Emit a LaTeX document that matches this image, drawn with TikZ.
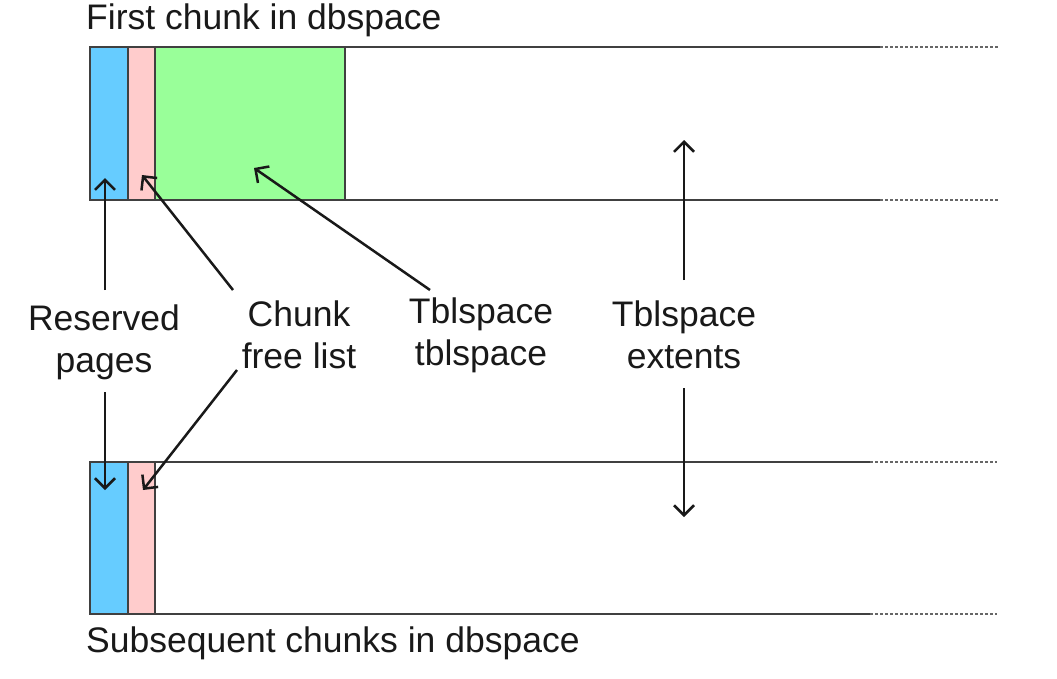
\documentclass[tikz,border=0pt]{standalone}
\usepackage{fontspec}
\setmainfont{Liberation Sans}
\usetikzlibrary{arrows.meta}
\begin{document}
\begin{tikzpicture}[x=1pt,y=-1pt,
  lbl/.style={font=\fontsize{35.5}{42}\selectfont, text=black!90, align=center, inner sep=0pt},
  boxline/.style={draw=black!75, line width=2pt},
  hline/.style={draw=black!75, line width=1.8pt},
  dline/.style={draw=black!60, line width=1.8pt, dash pattern=on 3pt off 2pt},
  arr/.style={draw=black!90, line width=2.5pt, -{Straight Barb[length=10pt,width=20pt,line width=2.5pt]}}
]
\useasboundingbox (0,0) rectangle (1057,678);
% top chunk
\fill[fill={rgb,255:red,102;green,204;blue,255}] (90,47) rectangle (128,200);
\fill[fill={rgb,255:red,255;green,204;blue,204}] (128,47) rectangle (155,200);
\fill[fill={rgb,255:red,153;green,255;blue,153}] (155,47) rectangle (345,200);
\draw[boxline] (90,47) rectangle (128,200);
\draw[boxline] (128,47) rectangle (155,200);
\draw[boxline] (155,47) rectangle (345,200);
\draw[hline] (345,47) -- (880,47);
\draw[hline] (345,200) -- (880,200);
\draw[dline] (880,47) -- (998,47);
\draw[dline] (880,200) -- (998,200);
% bottom chunk
\fill[fill={rgb,255:red,102;green,204;blue,255}] (90,462) rectangle (128,614);
\fill[fill={rgb,255:red,255;green,204;blue,204}] (128,462) rectangle (155,614);
\draw[boxline] (90,462) rectangle (128,614);
\draw[boxline] (128,462) rectangle (155,614);
\draw[hline] (155,462) -- (870,462);
\draw[hline] (155,614) -- (870,614);
\draw[dline] (870,462) -- (997,462);
\draw[dline] (870,614) -- (997,614);
% titles
\node[lbl, anchor=west] (t1) at (86,20) {First chunk in dbspace};
\node[lbl, anchor=west] (t2) at (86,643) {Subsequent chunks in dbspace};
% labels
\node[lbl] (res) at (104,342) {Reserved\\pages};
\node[lbl] (cfl) at (299,335) {Chunk\\free list};
\node[lbl] (tts) at (481,335) {Tblspace\\tblspace};
\node[lbl] (ext) at (684,335) {Tblspace\\extents};
% arrow ends
\coordinate (rtop) at (105,178);
\coordinate (rbot) at (105,490);
\coordinate (ctop) at (142,175);
\coordinate (cbot) at (143,490);
\coordinate (ttop) at (254,168);
\coordinate (etop) at (684,140);
\coordinate (ebot) at (684,517);
\coordinate (rs1) at (105,290);
\coordinate (rs2) at (105,392);
\coordinate (cs1) at (233,290);
\coordinate (cs2) at (237,370);
\coordinate (ts1) at (430,290);
\coordinate (es1) at (684,280);
\coordinate (es2) at (684,388);
\draw[arr] (rs1) -- (rtop);
\draw[arr] (rs2) -- (rbot);
\draw[arr] (cs1) -- (ctop);
\draw[arr] (cs2) -- (cbot);
\draw[arr] (ts1) -- (ttop);
\draw[arr] (es1) -- (etop);
\draw[arr] (es2) -- (ebot);
\end{tikzpicture}
\end{document}
